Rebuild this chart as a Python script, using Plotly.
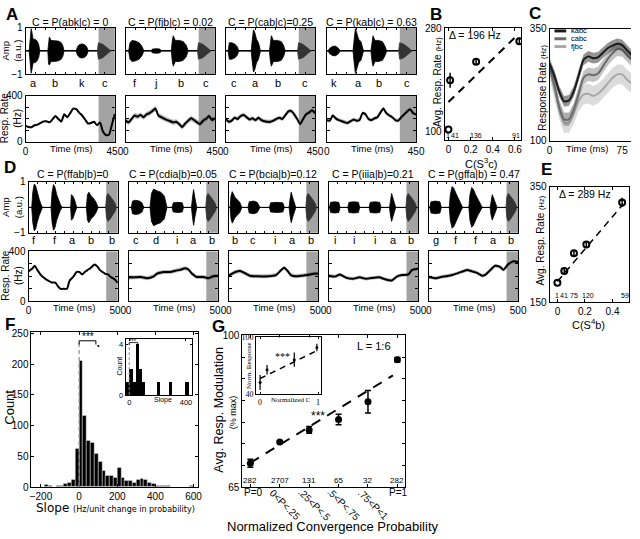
import plotly.graph_objects as go

W, H = 640, 539
FONT = "Liberation Sans"

# ======================= DATA =======================
# ---- Panel A : stimuli (envelopes of context syllables, a.u.) ----
A_titles = ["C = P(abk|c) = 0", "C = P(fjb|c) = 0.02", "C = P(cab|c)=0.25", "C = P(kab|c) = 0.63"]
A_syl = [["a", "b", "k", "c"], ["f", "j", "b", "c"], ["c", "a", "b", "c"], ["k", "a", "b", "c"]]
A_syl_t = [[40, 150, 285, 402], [46, 152, 280, 405], [40, 150, 262, 400], [37, 158, 265, 405]]

A1_t = [0, 18, 24, 28, 32, 38, 48, 58, 66, 72, 112, 116, 120, 128, 145, 165, 180, 188, 194, 254, 262, 272, 285, 298, 308, 316, 360]
A1_env = [0, 0, 0.55, 0.95, 0.8, 0.5, 0.5, 0.42, 0.28, 0, 0, 0.55, 0.6, 0.45, 0.45, 0.42, 0.35, 0.22, 0, 0, 0.18, 0.28, 0.3, 0.27, 0.18, 0, 0]
A2_t = [0, 15, 22, 32, 50, 68, 82, 92, 127, 135, 155, 172, 182, 230, 235, 240, 250, 270, 290, 305, 315, 360]
A2_env = [0, 0, 0.35, 0.45, 0.42, 0.35, 0.2, 0, 0, 0.08, 0.1, 0.08, 0, 0, 0.45, 0.65, 0.45, 0.45, 0.4, 0.25, 0, 0]
A3_t = [0, 12, 18, 30, 45, 58, 66, 128, 134, 140, 146, 155, 165, 175, 220, 225, 230, 240, 260, 280, 292, 300, 360]
A3_env = [0, 0, 0.35, 0.35, 0.3, 0.18, 0, 0, 0.5, 0.9, 0.8, 0.5, 0.35, 0, 0, 0.45, 0.65, 0.45, 0.45, 0.4, 0.22, 0, 0]
A4_t = [0, 6, 15, 30, 45, 58, 68, 132, 138, 144, 150, 160, 172, 185, 222, 228, 233, 242, 260, 280, 292, 302, 360]
A4_env = [0, 0, 0.12, 0.2, 0.2, 0.12, 0, 0, 0.5, 0.95, 0.8, 0.5, 0.4, 0, 0, 0.45, 0.65, 0.45, 0.45, 0.4, 0.22, 0, 0]
A_target_t = [362, 367, 375, 390, 405, 418, 430]
A_target_env = [0, 0.35, 0.33, 0.28, 0.18, 0.08, 0]

# ---- Panel A : response rates (Hz) ----
A_rt = [0, 15, 30, 45, 60, 75, 90, 105, 120, 135, 150, 165, 180, 195, 210, 225, 240, 255, 270, 285, 300, 315, 330, 345, 360, 375, 390, 405, 420, 435, 450]
A1_rate = [140, 130, 128, 145, 150, 165, 178, 180, 170, 195, 225, 200, 178, 240, 215, 250, 290, 285, 255, 230, 195, 160, 165, 175, 145, 170, 90, 60, 62, 150, 245]
A2_rate = [185, 170, 200, 230, 220, 235, 215, 240, 250, 270, 290, 230, 215, 200, 190, 180, 170, 175, 155, 130, 160, 185, 205, 190, 170, 155, 185, 200, 225, 190, 205]
A3_rate = [200, 175, 185, 210, 200, 225, 235, 215, 195, 205, 190, 210, 190, 180, 175, 175, 185, 200, 210, 200, 230, 265, 270, 240, 200, 155, 200, 240, 255, 275, 250]
A4_rate = [190, 185, 230, 205, 190, 180, 170, 165, 180, 195, 185, 190, 250, 240, 200, 190, 205, 215, 255, 290, 250, 230, 215, 190, 185, 215, 240, 265, 285, 250, 240]
A_rate_sem = [0, 22, 18, 16]

# ---- Panel B ----
B_x = [0.0, 0.015, 0.25, 0.64]
B_y = [104, 190, 222, 258]
B_err = [0, 13, 5, 6]
B_fit_x = [0.0, 0.62]
B_fit_y = [152, 268]
B_n = ["1", "41", "136", "91"]

# ---- Panel C ----
C_t = [0, 5, 10, 15, 20, 25, 30, 35, 40, 45, 50, 55, 60, 65, 70, 75, 80, 85]
C_kabc = [272, 245, 210, 188, 190, 210, 245, 280, 288, 284, 286, 296, 306, 312, 316, 313, 302, 290]
C_cabc = [265, 225, 175, 148, 148, 170, 205, 240, 248, 246, 250, 265, 282, 295, 304, 302, 290, 280]
C_fjbc = [262, 215, 170, 140, 140, 160, 188, 203, 205, 200, 205, 215, 228, 240, 248, 248, 236, 228]
C_sem = [12, 15, 22]
C_names = ["kabc", "cabc", "fjbc"]

# ---- Panel D : stimuli ----
D_titles = ["C = P(ffab|b)=0", "C = P(cdia|b)=0.05", "C = P(bcia|b)=0.12", "C = P(iiia|b)=0.21", "C = P(gffa|b) = 0.47"]
D_syl = [["f", "f", "a", "b", "b"], ["c", "d", "i", "a", "b"], ["b", "c", "i", "a", "b"], ["i", "i", "i", "a", "b"], ["g", "f", "f", "a", "b"]]
D_syl_t = [[28, 150, 248, 350, 465], [40, 155, 272, 365, 465], [35, 138, 258, 358, 462], [36, 140, 258, 360, 462], [38, 152, 262, 362, 462]]

D1_t = [0, 18, 24, 32, 40, 50, 60, 70, 78, 126, 132, 140, 148, 158, 168, 178, 188, 236, 240, 248, 258, 270, 324, 330, 338, 350, 365, 378, 390, 432]
D1_env = [0, 0, 0.6, 0.92, 0.85, 0.55, 0.32, 0.12, 0, 0, 0.6, 0.9, 0.8, 0.5, 0.3, 0.12, 0, 0, 0.5, 0.45, 0.3, 0, 0, 0.5, 0.6, 0.45, 0.35, 0.2, 0, 0]
D2_t = [0, 15, 22, 40, 60, 75, 85, 120, 128, 140, 160, 180, 200, 215, 243, 250, 275, 300, 308, 352, 358, 364, 372, 382, 432]
D2_env = [0, 0, 0.25, 0.28, 0.25, 0.18, 0, 0, 0.55, 0.72, 0.65, 0.6, 0.45, 0, 0, 0.18, 0.2, 0.18, 0, 0, 0.4, 0.7, 0.35, 0, 0]
D3_t = [0, 8, 13, 20, 35, 50, 62, 74, 108, 115, 140, 160, 175, 228, 235, 270, 303, 312, 338, 343, 350, 360, 376, 420]
D3_env = [0, 0, 0.45, 0.62, 0.4, 0.3, 0.2, 0, 0, 0.22, 0.25, 0.2, 0, 0, 0.18, 0.2, 0.18, 0, 0, 0.3, 0.6, 0.35, 0, 0]
D4_t = [0, 4, 10, 33, 56, 63, 107, 113, 140, 166, 173, 226, 232, 260, 285, 292, 340, 345, 352, 362, 375, 430]
D4_env = [0, 0, 0.2, 0.22, 0.2, 0, 0, 0.2, 0.22, 0.2, 0, 0, 0.2, 0.22, 0.2, 0, 0, 0.3, 0.55, 0.3, 0, 0]
D5_t = [0, 5, 12, 37, 62, 70, 114, 120, 130, 140, 152, 165, 178, 189, 224, 230, 240, 250, 262, 275, 288, 299, 343, 348, 355, 366, 382, 430]
D5_env = [0, 0, 0.22, 0.25, 0.22, 0, 0, 0.5, 0.82, 0.75, 0.55, 0.35, 0.15, 0, 0, 0.5, 0.78, 0.7, 0.5, 0.3, 0.12, 0, 0, 0.3, 0.5, 0.3, 0, 0]
D_target_t = [432, 437, 445, 458, 472, 485, 492]
D_target_env = [0, 0.42, 0.55, 0.45, 0.3, 0.15, 0]

# ---- Panel D : response rates ----
D1_rt = [0, 20, 35, 50, 70, 90, 110, 130, 150, 165, 180, 200, 215, 230, 250, 270, 285, 300, 315, 330, 350, 370, 385, 400, 415, 430, 445, 460, 480, 500]
D1_rate = [240, 260, 285, 250, 210, 185, 165, 150, 150, 120, 100, 100, 100, 165, 195, 235, 235, 215, 235, 250, 270, 295, 280, 250, 235, 220, 215, 195, 178, 148]
D2_rt = [0, 67, 104, 141, 159, 196, 233, 261, 289, 317, 335, 354, 381, 419, 446, 474, 500]
D2_rate = [190, 195, 185, 200, 222, 235, 235, 245, 252, 265, 255, 222, 195, 195, 185, 200, 205]
D3_rt = [0, 37, 64, 92, 119, 165, 220, 265, 293, 311, 329, 348, 375, 412, 439, 485, 500]
D3_rate = [205, 235, 242, 225, 205, 200, 200, 210, 250, 268, 245, 210, 200, 205, 210, 222, 220]
D4_rt = [0, 35, 62, 99, 135, 172, 209, 236, 282, 309, 337, 355, 383, 410, 446, 465, 500]
D4_rate = [205, 198, 215, 188, 180, 192, 180, 186, 192, 180, 168, 168, 200, 210, 215, 250, 262]
D5_rt = [0, 40, 68, 104, 141, 187, 214, 242, 270, 298, 316, 344, 371, 399, 417, 445, 472, 500]
D5_rate = [195, 185, 195, 202, 215, 238, 250, 240, 228, 205, 212, 250, 285, 275, 252, 298, 320, 315]
D_rate_sem = [0, 16, 16, 14, 14]

# ---- Panel E ----
E_x = [0.0, 0.05, 0.12, 0.21, 0.47]
E_y = [184, 204, 235, 250, 323]
E_err = [0, 5, 5, 5, 8]
E_fit_x = [0.0, 0.47]
E_fit_y = [186, 318]
E_n = ["1", "41", "75", "120", "59"]

# ---- Panel F : histogram of slopes (20 Hz bins from -200 to 600) ----
F_counts = [0, 4, 2, 1, 3, 3, 5, 8, 12, 63, 205, 117, 76, 72, 55, 42, 27, 18, 18, 16,
            32, 16, 10, 10, 8, 12, 14, 12, 8, 5, 3, 3, 2, 2, 1, 1, 1, 0, 1, 2]
F_bin_left = list(range(-200, 600, 20))
F_in_x = [-12, 10, 32, 54, 76, 98, 203, 290, 405]
F_in_counts = [1, 2, 1, 4, 2, 1, 1, 1, 1]

# ---- Panel G ----
G_labels = ["P=0", "0<P<.25", ".25<P<.5", ".5<P<.75", ".75<P<1", "P=1"]
G_y = [70.5, 75.4, 78.2, 80.6, 84.7, 94.4]
G_err = [0.9, 0.3, 0.8, 1.2, 2.6, 0.5]
G_n = ["282", "2707", "131", "65", "32", "282"]
G_fit_x = [0.0, 4.85]
G_fit_y = [70.6, 90.8]
Gi_x = [0.0, 0.12, 0.59, 0.98]
Gi_y = [52.4, 65.9, 76.5, 89.3]
Gi_err = [8, 5, 7.5, 4]
Gi_fit_x = [0.0, 1.0]
Gi_fit_y = [56.6, 86.6]

# ======================= HELPERS =======================
fig = go.Figure()
axes = {}
ann = []
shapes = []


def xa(i): return 'x' if i == 1 else f'x{i}'
def ya(i): return 'y' if i == 1 else f'y{i}'
def xl(i): return 'xaxis' if i == 1 else f'xaxis{i}'
def yl(i): return 'yaxis' if i == 1 else f'yaxis{i}'


def tf(size, family=FONT):
    return dict(family=family, size=size, color='black')


def make_axes(i, box, xr, yr, xkw=None, ykw=None):
    x0, y0, x1, y1 = box
    base = dict(showline=True, linecolor='black', linewidth=1, mirror='ticks', ticks='inside',
                ticklen=3, tickcolor='black', showgrid=False, zeroline=False, fixedrange=True,
                tickfont=tf(9.5))
    xd = dict(base, domain=[x0 / W, x1 / W], range=xr, anchor=ya(i))
    yd = dict(base, domain=[1 - y1 / H, 1 - y0 / H], range=yr, anchor=xa(i))
    xd.update(xkw or {})
    yd.update(ykw or {})
    axes[xl(i)] = xd
    axes[yl(i)] = yd


def minor(vals, ln=3):
    return dict(tickvals=vals, ticks='inside', ticklen=ln, tickcolor='black', showgrid=False)


def txt(x, y, s, size=12, angle=0, xa_='center', ya_='middle', family=FONT, color='black'):
    ann.append(dict(x=x / W, y=1 - y / H, xref='paper', yref='paper', text=s, showarrow=False,
                    textangle=angle, xanchor=xa_, yanchor=ya_,
                    font=dict(family=family, size=size, color=color)))


def dtxt(i, x, y, s, size=9, xa_='center', ya_='middle', family=FONT):
    ann.append(dict(x=x, y=y, xref=xa(i), yref=ya(i), text=s, showarrow=False,
                    xanchor=xa_, yanchor=ya_, font=dict(family=family, size=size, color='black')))


def gray_rect(i, t0, t1):
    shapes.append(dict(type='rect', xref=xa(i), yref=ya(i) + ' domain', x0=t0, x1=t1, y0=0, y1=1,
                       fillcolor='#a3a3a3', line=dict(width=0), layer='below'))


def wave(i, t, env, color):
    xs = list(t) + list(t[::-1])
    ys = list(env) + [-e for e in env[::-1]]
    fig.add_trace(go.Scatter(x=xs, y=ys, xaxis=xa(i), yaxis=ya(i), mode='lines', fill='toself',
                             fillcolor=color, line=dict(color=color, width=0.8), hoverinfo='skip'))


def rate(i, t, v, sem, color='black', band='rgba(90,90,90,0.45)', width=2):
    if sem:
        xs = list(t) + list(t[::-1])
        ys = [a + sem for a in v] + [a - sem for a in v[::-1]]
        fig.add_trace(go.Scatter(x=xs, y=ys, xaxis=xa(i), yaxis=ya(i), mode='lines', fill='toself',
                                 fillcolor=band, line=dict(width=0), hoverinfo='skip'))
    fig.add_trace(go.Scatter(x=t, y=v, xaxis=xa(i), yaxis=ya(i), mode='lines',
                             line=dict(color=color, width=width, shape='spline', smoothing=0.6)))


TICK = tf(10)

# ======================= PANEL A =======================
A_left = [23, 125, 227, 330]
A_w = 91
A_env = [(A1_t, A1_env), (A2_t, A2_env), (A3_t, A3_env), (A4_t, A4_env)]
A_rates = [A1_rate, A2_rate, A3_rate, A4_rate]
for k in range(4):
    iw, ir = 1 + k, 5 + k
    L = A_left[k]
    make_axes(iw, (L, 22, L + A_w, 70), [0, 450], [-1, 1],
              xkw=dict(tickvals=list(range(50, 450, 50)), showticklabels=False, ticklen=2),
              ykw=dict(tickvals=[-1, 1], showticklabels=(k == 0), ticklen=2, tickfont=TICK,
                       zeroline=True, zerolinecolor='black', zerolinewidth=1))
    gray_rect(iw, 368, 450)
    wave(iw, A_env[k][0], A_env[k][1], 'black')
    wave(iw, A_target_t, A_target_env, '#333333')
    for s, ts in zip(A_syl[k], A_syl_t[k]):
        txt(L + ts / 450 * A_w, 79, s, 11)
    txt(L + A_w / 2, 16, A_titles[k], 10.5)

    make_axes(ir, (L, 92, L + A_w, 139), [0, 450], [0, 400],
              xkw=dict(tickvals=[0, 450], tickfont=TICK, ticklen=0),
              ykw=dict(tickvals=[0, 400], showticklabels=(k == 0), ticklen=3, tickfont=TICK,
                       minor=minor([100, 200, 300])))
    gray_rect(ir, 368, 450)
    rate(ir, A_rt, A_rates[k], A_rate_sem[k])
    txt(L + A_w / 2 + 1, 146, "Time (ms)", 9.5)

txt(9, 46, "Amp<br>(a.u.)", 9.5, angle=-90)
txt(9, 115, "Resp. Rate<br>(Hz)", 10, angle=-90)

# ======================= PANEL B =======================
make_axes(9, (450, 23, 528, 137), [-0.035, 0.656], [86, 280],
          xkw=dict(tickvals=[0, 0.2, 0.4, 0.6], ticktext=['0', '0.2', '0.4', '0.6'], tickfont=TICK),
          ykw=dict(tickvals=[100, 280], tickfont=TICK, ticklen=0))
fig.add_trace(go.Scatter(x=B_fit_x, y=B_fit_y, xaxis='x9', yaxis='y9', mode='lines',
                         line=dict(color='black', width=2, dash='8px,6px')))
fig.add_trace(go.Scatter(x=B_x, y=B_y, xaxis='x9', yaxis='y9', mode='markers',
                         marker=dict(symbol='circle-open', size=6, color='black', line=dict(width=2)),
                         error_y=dict(type='data', array=B_err, color='black', thickness=1.5, width=0)))
for xv, s in zip([0.0, 0.06, 0.25, 0.61], B_n):
    dtxt(9, xv, 93, s, 7)
dtxt(9, -0.01, 268, "Δ = 196 Hz", 10.5, xa_='left')
txt(443, 78, "Avg. Resp. Rate <span style='font-size:7.5px'>(Hz)</span>", 10, angle=-90)
txt(487, 161, "C(S<sup>3</sup>c)", 11)

# ======================= PANEL C =======================
make_axes(10, (557, 23, 640, 138), [0, 84.1], [100, 350],
          xkw=dict(tickvals=[0, 75], tickfont=TICK, ticklen=0, mirror=False),
          ykw=dict(tickvals=[100, 350], tickfont=TICK, ticklen=0, mirror=False))
shapes.append(dict(type='line', xref='paper', yref='paper', x0=557 / W, x1=1, y0=1 - 23 / H, y1=1 - 23 / H,
                   line=dict(color='black', width=1)))
C_series = [C_kabc, C_cabc, C_fjbc]
C_line_col = ['#1a1a1a', '#6a6a6a', '#a8a8a8']
C_band_col = ['rgba(60,60,60,0.55)', 'rgba(120,120,120,0.45)', 'rgba(175,175,175,0.45)']
for j in [2, 1, 0]:
    rate(10, C_t, C_series[j], C_sem[j], color=C_line_col[j], band=C_band_col[j], width=2)
for j in range(3):
    yy = 25.5 + 8 * j
    shapes.append(dict(type='line', xref='paper', yref='paper', x0=562 / W, x1=574 / W, y0=1 - yy / H, y1=1 - yy / H,
                       line=dict(color=C_line_col[j], width=3)))
    txt(577, yy, C_names[j], 7.5, xa_='left')
txt(549, 84, "Response Rate <span style='font-size:7.5px'>(Hz)</span>", 10, angle=-90)
txt(595, 146, "Time (ms)", 9.5)

# ======================= PANEL D =======================
D_left = [26, 128, 230, 332, 434]
D_w = 91
D_env = [(D1_t, D1_env), (D2_t, D2_env), (D3_t, D3_env), (D4_t, D4_env), (D5_t, D5_env)]
D_rts = [(D1_rt, D1_rate), (D2_rt, D2_rate), (D3_rt, D3_rate), (D4_rt, D4_rate), (D5_rt, D5_rate)]
for k in range(5):
    iw, ir = 11 + k, 16 + k
    L = D_left[k]
    make_axes(iw, (L, 180, L + D_w, 232), [0, 500], [-1, 1],
              xkw=dict(tickvals=list(range(50, 500, 50)), showticklabels=False, ticklen=2),
              ykw=dict(tickvals=[-1, 1], showticklabels=(k == 0), ticklen=2, tickfont=TICK,
                       zeroline=True, zerolinecolor='black', zerolinewidth=1))
    gray_rect(iw, 435, 500)
    wave(iw, D_env[k][0], D_env[k][1], 'black')
    wave(iw, D_target_t, D_target_env, '#333333')
    for s, ts in zip(D_syl[k], D_syl_t[k]):
        txt(L + ts / 500 * D_w, 239, s, 11)
    txt(L + D_w / 2, 172, D_titles[k], 10.5)

    make_axes(ir, (L, 251, L + D_w, 302), [0, 500], [0, 400],
              xkw=dict(tickvals=[0, 500], tickfont=TICK, ticklen=0),
              ykw=dict(tickvals=[0, 400], showticklabels=(k == 0), ticklen=3, tickfont=TICK,
                       minor=minor([100, 200, 300])))
    gray_rect(ir, 435, 500)
    rate(ir, D_rts[k][0], D_rts[k][1], D_rate_sem[k])
    txt(L + D_w / 2 + 1, 308, "Time (ms)", 9.5)

txt(9, 206, "Amp<br>(a.u.)", 9.5, angle=-90)
txt(9, 276, "Resp. Rate<br>(Hz)", 10, angle=-90)

# ======================= PANEL E =======================
make_axes(21, (557, 185, 638, 303), [-0.057, 0.52], [150, 350],
          xkw=dict(tickvals=[0, 0.2, 0.4], ticktext=['0', '0.2', '0.4'], tickfont=TICK),
          ykw=dict(tickvals=[150, 350], tickfont=TICK, ticklen=0))
fig.add_trace(go.Scatter(x=E_fit_x, y=E_fit_y, xaxis='x21', yaxis='y21', mode='lines',
                         line=dict(color='black', width=1.5, dash='7px,5px')))
fig.add_trace(go.Scatter(x=E_x, y=E_y, xaxis='x21', yaxis='y21', mode='markers',
                         marker=dict(symbol='circle-open', size=6, color='black', line=dict(width=2)),
                         error_y=dict(type='data', array=E_err, color='black', thickness=1.5, width=0)))
for xv, s in zip([0.0, 0.05, 0.12, 0.22, 0.49], E_n):
    dtxt(21, xv, 161, s, 7)
dtxt(21, -0.005, 337, "Δ = 289 Hz", 10.5, xa_='left')
txt(548, 240, "Avg. Resp. Rate <span style='font-size:7.5px'>(Hz)</span>", 10, angle=-90)
txt(597, 325, "C(S<sup>4</sup>b)", 11)

# ======================= PANEL F =======================
F_centers = [b + 10 for b in F_bin_left]
make_axes(22, (29, 333, 199, 492), [-250, 625], [0, 253],
          xkw=dict(tickvals=[-200, 0, 200, 400, 600], tickfont=TICK),
          ykw=dict(tickvals=[0, 50, 100, 150, 200, 250], tickfont=TICK))
fig.add_trace(go.Bar(x=F_centers, y=F_counts, width=20, xaxis='x22', yaxis='y22',
                     marker=dict(color='black', line=dict(color='white', width=0.4))))
shapes.append(dict(type='line', xref='x22', yref='y22', x0=0, x1=0, y0=0, y1=236,
                   line=dict(color='#888888', width=1.2, dash='4px,3px')))
shapes.append(dict(type='path', xref='x22', yref='y22', path='M 0,232 L 0,238 L 88,238 L 88,232',
                   line=dict(color='black', width=1)))
dtxt(22, 44, 245, "***", 10)
dtxt(22, 100, 231, "•", 7)
txt(7, 410, "Count", 13, angle=-90)
txt(115, 513, "Slope <span style='font-size:8px'>(Hz/unit change in probability)</span>", 12, family="DejaVu Sans")

make_axes(23, (125, 341, 193, 398), [-25, 445], [0, 4.4],
          xkw=dict(tickvals=[0, 400], tickfont=tf(7.5), ticklen=2),
          ykw=dict(tickvals=[0, 4], tickfont=tf(7.5), ticklen=2))
fig.add_trace(go.Bar(x=F_in_x, y=F_in_counts, width=22, xaxis='x23', yaxis='y23',
                     marker=dict(color='black', line=dict(width=0))))
shapes.append(dict(type='line', xref='x23', yref='y23', x0=0, x1=0, y0=0, y1=4.1,
                   line=dict(color='#888888', width=1, dash='3px,2px')))
shapes.append(dict(type='path', xref='x23', yref='y23', path='M 0,3.95 L 0,4.15 L 60,4.15 L 60,3.95',
                   line=dict(color='black', width=0.8)))
dtxt(23, 30, 4.3, "***", 6)
txt(119, 368, "Count", 7, angle=-90)
txt(163, 403, "Slope", 7)

# ======================= PANEL G =======================
make_axes(24, (244, 337, 410, 492), [-0.27, 5.27], [65, 100],
          xkw=dict(tickvals=[0, 1, 2, 3, 4, 5], showticklabels=False, ticklen=3),
          ykw=dict(tickvals=[65, 100], tickfont=TICK, ticklen=3,
                   minor=minor([70, 75, 80, 85, 90, 95])))
fig.add_trace(go.Scatter(x=G_fit_x, y=G_fit_y, xaxis='x24', yaxis='y24', mode='lines',
                         line=dict(color='black', width=2, dash='10px,8px')))
fig.add_trace(go.Scatter(x=list(range(6)), y=G_y, xaxis='x24', yaxis='y24', mode='markers',
                         marker=dict(symbol='circle', size=7, color='black'),
                         error_y=dict(type='data', array=G_err, color='black', thickness=1.5, width=3)))
for k, s in enumerate(G_n):
    dtxt(24, k, 66.6, s, 8)
dtxt(24, 2.3, 81.5, "***", 12)
dtxt(24, 4.2, 97.6, "L = 1:6", 11)
txt(255, 498, G_labels[0], 10)
txt(403, 498, G_labels[5], 10)
for k, cx in zip(range(1, 5), [287, 317, 347, 377]):
    txt(cx, 510, G_labels[k], 10, angle=45)
txt(336, 532, "Normalized Convergence Probability", 13)
txt(220, 413, "Avg. Resp. Modulation", 12.5, angle=-90)
txt(234, 416, "(% max)", 9, angle=-90)

SERIF = "Liberation Serif"
make_axes(25, (258, 339, 324, 397), [-0.068, 1.05], [40, 100],
          xkw=dict(tickvals=[0, 1], tickfont=tf(8, SERIF), ticklen=2),
          ykw=dict(tickvals=[40, 100], tickfont=tf(8, SERIF), ticklen=2))
fig.add_trace(go.Scatter(x=Gi_fit_x, y=Gi_fit_y, xaxis='x25', yaxis='y25', mode='lines',
                         line=dict(color='black', width=1.5, dash='6px,5px')))
fig.add_trace(go.Scatter(x=Gi_x, y=Gi_y, xaxis='x25', yaxis='y25', mode='markers',
                         marker=dict(symbol='circle', size=3, color='black'),
                         error_y=dict(type='data', array=Gi_err, color='black', thickness=1.2, width=0)))
dtxt(25, 0.39, 80, "***", 10, family=SERIF)
txt(251, 368, "Norm. Response", 7, angle=-90, family=SERIF)
txt(293, 403, "Normalized C", 7, family=SERIF)

# ======================= LETTERS =======================
for s, x, y in [("A", 9, 9), ("B", 441, 9), ("C", 542, 8), ("D", 7, 165), ("E", 554, 167), ("F", 7, 326), ("G", 220, 328)]:
    txt(x, y, f"<b>{s}</b>", 17)

fig.update_layout(**axes)
fig.update_layout(width=W, height=H, autosize=False, margin=dict(l=0, r=0, t=0, b=0),
                  paper_bgcolor='white', plot_bgcolor='white', showlegend=False,
                  annotations=ann, shapes=shapes, bargap=0,
                  font=dict(family=FONT, color='black'))
fig.write_html("out.html", config={'displayModeBar': False},
               post_script="document.body.style.margin='0';document.body.style.overflow='hidden';")
